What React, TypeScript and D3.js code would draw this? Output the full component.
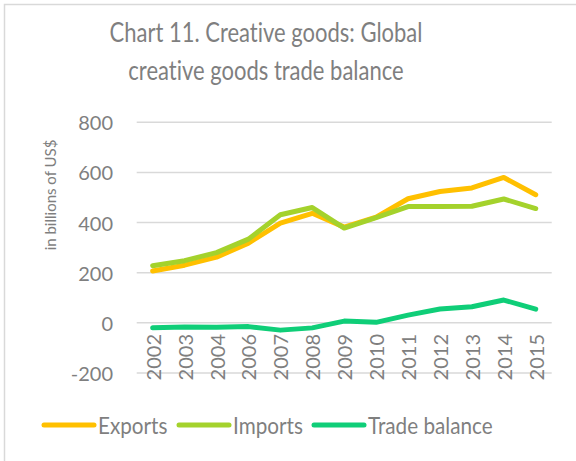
import React from "react";
import * as d3 from "d3";

const years = ["2002", "2003", "2004", "2006", "2007", "2008", "2009", "2010", "2011", "2012", "2013", "2014", "2015"];
const exportsV = [207, 230, 262, 318, 398, 437, 382, 422, 495, 524, 538, 580, 511];
const importsV = [228, 248, 280, 334, 431, 460, 378, 420, 464, 464, 465, 494, 456];
const balanceV = [-20, -17, -18, -15, -29, -20, 7, 2, 31, 55, 64, 91, 55];
const yTicks = [-200, 0, 200, 400, 600, 800];
const seriesNames = ["Exports", "Imports", "Trade balance"];
const colors = ["#FFC000", "#A4D22C", "#0FCE78"];
const titleLines = ["Chart 11. Creative goods: Global", "creative goods trade balance"];
const yAxisTitle = "in billions of US$";

const W = 576, H = 461;
const gray = "#7f7f7f";
const font = "Lato, 'Open Sans', sans-serif";

export default function App() {
  const x = d3.scaleBand<string>().domain(years).range([136.7, 551.7]);
  const y = d3.scaleLinear().domain([-200, 800]).range([373, 122.3]);
  const line = d3
    .line<number>()
    .x((_, i) => (x(years[i]) as number) + x.bandwidth() / 2)
    .y((d) => y(d));
  const series = [exportsV, importsV, balanceV];
  const legendX = [44, 179, 314];
  return (
    <svg
      width={W}
      height={H}
      style={{ position: "absolute", left: 0, top: 0, background: "#fff", fontVariantLigatures: "none" }}
      fontFamily={font}
    >
      <rect x={4.5} y={4.5} width={W + 10} height={H + 10} fill="#fff" stroke="#d9d9d9" strokeWidth={1.5} />
      {titleLines.map((t, i) => (
        <text
          key={t}
          transform={`translate(266,${42 + i * 38}) scale(0.83,1)`}
          textAnchor="middle"
          fontSize={26.5}
          fill={gray}
        >
          {t}
        </text>
      ))}
      {yTicks.map((t) => (
        <g key={t}>
          <line x1={136.7} x2={551.7} y1={y(t)} y2={y(t)} stroke="#d9d9d9" strokeWidth={1.5} />
          <text x={113} y={y(t)} textAnchor="end" dominantBaseline="central" fontSize={20} fill={gray}>
            {t}
          </text>
        </g>
      ))}
      <text transform={`translate(50,195) rotate(-90)`} textAnchor="middle" dominantBaseline="central" fontSize={15} fill={gray}>
        {yAxisTitle}
      </text>
      {years.map((yr) => (
        <text
          key={yr}
          transform={`translate(${(x(yr) as number) + x.bandwidth() / 2},334) rotate(-90)`}
          textAnchor="end"
          dominantBaseline="central"
          fontSize={20}
          fill={gray}
        >
          {yr}
        </text>
      ))}
      {series.map((s, i) => (
        <path key={i} d={line(s) as string} fill="none" stroke={colors[i]} strokeWidth={5} strokeLinejoin="round" strokeLinecap="round" />
      ))}
      {seriesNames.map((n, i) => (
        <g key={n}>
          <line x1={legendX[i]} x2={legendX[i] + 50} y1={425} y2={425} stroke={colors[i]} strokeWidth={5} strokeLinecap="round" />
          <text
            transform={`translate(${legendX[i] + 54},425) scale(0.9,1)`}
            dominantBaseline="central"
            fontSize={23}
            fill={gray}
          >
            {n}
          </text>
        </g>
      ))}
    </svg>
  );
}
